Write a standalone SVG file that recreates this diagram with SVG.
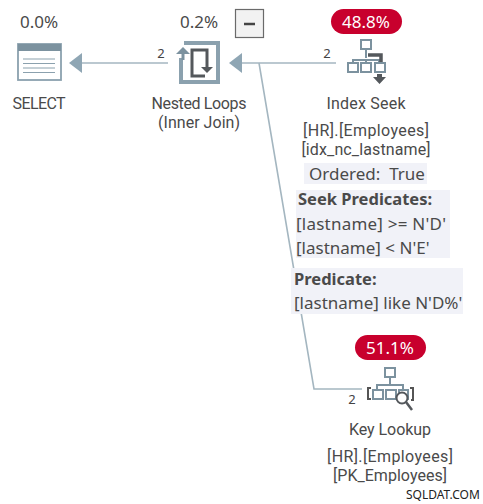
<svg xmlns="http://www.w3.org/2000/svg" width="483" height="504" viewBox="0 0 483 504">
<style>
text{font-family:"Noto Sans","Open Sans","Liberation Sans",sans-serif;font-size:15px;fill:#4a4a4a;text-anchor:middle}
.p{font-size:17px}
.t{font-family:Roboto,"Noto Sans",sans-serif;font-size:16px}
.b{font-weight:700;font-size:16.500px;text-anchor:start}
.s{text-anchor:start;font-size:17px}
.n{font-size:13px;fill:#444}
.w{fill:#fff;font-size:17px}
.pill{fill:#c8002d}
.bg{fill:#f1f2f8}
.ln{fill:none;stroke:#a4b6c0;stroke-width:1.6}
.ar{fill:#8fa6b4}
.ic{fill:#fff;stroke:#7c929f;stroke-width:2}
.dk{fill:none;stroke:#54585c;stroke-width:3}
</style>
<g id="connectors">
<path class="ln" d="M81 63H168"/><path class="ar" d="M69 63L82 53V73Z"/>
<path class="ln" d="M242 63H336"/><path class="ar" d="M229 63L242 53V73Z"/>
<path class="ln" d="M259 63L314 389H362"/>
<text class="n" x="161" y="58">2</text>
<text class="n" x="327" y="58">2</text>
<text class="n" x="352" y="404">2</text>
</g>
<g id="select">
<text class="p" x="39" y="28">0.0%</text>
<rect x="18" y="44" width="43" height="36" fill="#fff" stroke="#8ba1ae" stroke-width="1.8"/>
<rect x="18" y="44" width="43" height="7" fill="#7c929f"/>
<path d="M23 59H55M23 63.500H55M23 68H55M23 72.500H55" stroke="#8ba1ae" stroke-width="1.200"/>
<text class="t" x="39" y="109" textLength="53">SELECT</text>
</g>
<g id="nested-loops">
<text class="p" x="199" y="28">0.2%</text>
<path d="M184 43H218V82H181V58" fill="none" stroke="#8ba1ae" stroke-width="4"/>
<path d="M183 49V60" stroke="#7c929f" stroke-width="3"/><path d="M176 54L183 47L190 54Z" fill="#7c929f"/>
<path class="dk" d="M207 71V50H192V76H205"/><path d="M201 67H213L207 73Z" fill="#54585c"/>
<text class="t" x="199" y="109" textLength="95">Nested Loops</text>
<text class="t" x="199" y="128" textLength="82">(Inner Join)</text>
</g>
<g id="collapse">
<rect x="235.500" y="9.500" width="28" height="28" fill="#f2f2f2" stroke="#6a6a6a" stroke-width="1.200"/>
<path d="M244 24H255" stroke="#444" stroke-width="2.500"/>
</g>
<g id="index-seek">
<rect class="pill" x="331" y="9" width="71" height="25" rx="12.500"/>
<text class="w" x="366" y="28">48.8%</text>
<path d="M366 49V58M353 65V60H379V65M366 60V65" fill="none" stroke="#7c929f" stroke-width="2"/>
<rect class="ic" x="361" y="40" width="10" height="9"/>
<rect class="ic" x="348" y="63" width="10" height="9"/>
<rect class="ic" x="361" y="63" width="10" height="9"/>
<path d="M368 55H381V63" fill="none" stroke="#54585c" stroke-width="3.500"/>
<rect class="ic" x="375" y="63" width="10" height="9"/>
<path d="M377 74H382V77H386L379.500 84L373 77H377Z" fill="#54585c"/>
<text class="t" x="366" y="109" textLength="79">Index Seek</text>
<text class="t" x="366" y="136" textLength="126">[HR].[Employees]</text>
<text class="t" x="366" y="155" textLength="129">[idx_nc_lastname]</text>
<rect class="bg" x="304" y="163" width="123" height="21"/>
<text class="p" x="367" y="180" xml:space="preserve">Ordered:  True</text>
</g>
<g id="seek-predicates">
<rect class="bg" x="296" y="190" width="154" height="68"/>
<text class="b" x="298" y="205">Seek Predicates:</text>
<text class="s" x="296" y="230" textLength="150">[lastname] &gt;= N'D'</text>
<text class="s" x="296" y="254">[lastname] &lt; N'E'</text>
</g>
<g id="predicate">
<rect class="bg" x="291" y="268" width="172" height="46"/>
<text class="b" x="294" y="285">Predicate:</text>
<text class="s" x="294" y="309">[lastname] like N'D%'</text>
</g>
<g id="key-lookup">
<rect class="pill" x="355" y="335" width="71" height="25" rx="12.500"/>
<text class="w" x="390" y="354">51.1%</text>
<path d="M390 377V385M377 392V385H403V392" fill="none" stroke="#7c929f" stroke-width="2"/>
<rect class="ic" x="385" y="368" width="10" height="9"/>
<rect class="ic" x="373" y="390" width="10" height="9"/>
<rect class="ic" x="386" y="390" width="10" height="9"/>
<rect class="ic" x="399" y="390" width="9" height="9"/>
<path d="M371 388H368V399H371M410 388H413V400H411" fill="none" stroke="#555" stroke-width="2"/>
<circle cx="402" cy="398" r="5.500" fill="#fff" stroke="#54585c" stroke-width="2"/>
<path d="M406 402L412 410" stroke="#54585c" stroke-width="2.500"/>
<text class="t" x="390" y="435" textLength="82">Key Lookup</text>
<text class="t" x="390" y="462" textLength="126">[HR].[Employees]</text>
<text class="t" x="390" y="481" textLength="114">[PK_Employees]</text>
</g>
<text x="406" y="499" style="font-size:12px;fill:#222;text-anchor:start">SQLDAT.COM</text>
</svg>
